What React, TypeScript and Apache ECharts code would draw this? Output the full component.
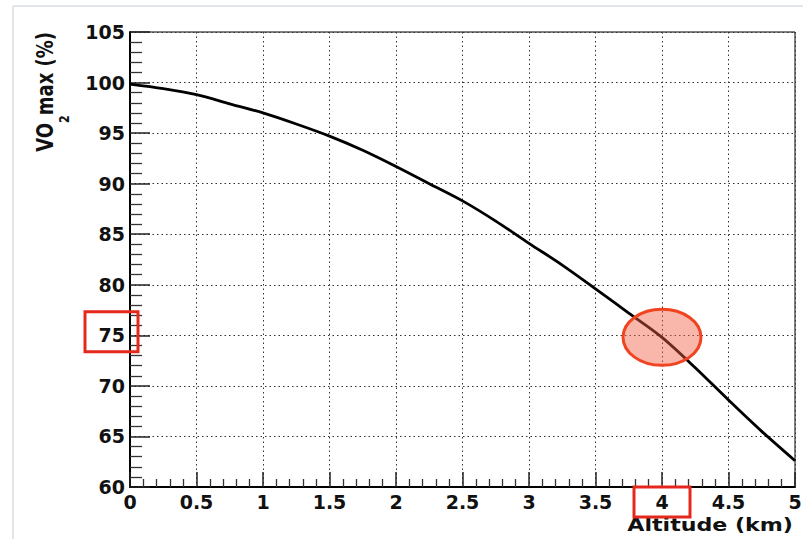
import React, { useEffect, useRef } from "react";
import * as echarts from "echarts";

const altitudeKm = [0, 0.25, 0.5, 0.75, 1, 1.25, 1.5, 1.75, 2, 2.25, 2.5, 2.75, 3, 3.25, 3.5, 3.75, 4, 4.25, 4.5, 4.75, 5];
const vo2maxPct = [99.85, 99.4, 98.8, 97.9, 97.0, 95.9, 94.7, 93.3, 91.7, 90.0, 88.3, 86.3, 84.1, 81.95, 79.6, 77.2, 74.8, 71.8, 68.6, 65.5, 62.6];
const highlightPoint = [4, 74.8];
const highlightYTick = 75;
const highlightXTick = 4;

const FONT = "DejaVu Sans";

export default function App() {
  const ref = useRef<HTMLDivElement>(null);
  useEffect(() => {
    document.body.style.margin = "0";
    const chart = echarts.init(ref.current!, null, { renderer: "svg" });
    chart.setOption({
      animation: false,
      backgroundColor: "#fff",
      grid: {
        left: 130,
        top: 32,
        right: 8,
        bottom: 52,
        show: true,
        borderColor: "#000",
        borderWidth: 1,
        outerBoundsMode: "none",
      },
      xAxis: {
        type: "value",
        min: 0,
        max: 5,
        interval: 0.5,
        axisLine: { show: true, onZero: false, lineStyle: { color: "#000", width: 2 } },
        axisTick: { show: true, inside: true, length: 15, lineStyle: { color: "#222", width: 1.5 } },
        minorTick: { show: true, splitNumber: 5, length: 8, lineStyle: { color: "#333", width: 1.3 } },
        splitLine: { show: true, lineStyle: { color: "#333", type: [1.5, 3], width: 1 } },
        axisLabel: { color: "#111", fontFamily: FONT, fontWeight: "bold", fontSize: 19, margin: 5, showMinLabel: true, showMaxLabel: true },
      },
      yAxis: {
        type: "value",
        min: 60,
        max: 105,
        interval: 5,
        axisLine: { show: true, onZero: false, lineStyle: { color: "#000", width: 2 } },
        axisTick: { show: true, inside: true, length: 20, lineStyle: { color: "#222", width: 1.5 } },
        minorTick: { show: true, splitNumber: 5, length: 12, lineStyle: { color: "#333", width: 1.3 } },
        splitLine: { show: true, lineStyle: { color: "#333", type: [1.5, 3], width: 1 } },
        axisLabel: { color: "#111", fontFamily: FONT, fontWeight: "bold", fontSize: 19, margin: 5, showMinLabel: true, showMaxLabel: true },
      },
      series: [
        {
          type: "line",
          data: altitudeKm.map((a, i) => [a, vo2maxPct[i]]),
          showSymbol: false,
          smooth: 0.3,
          lineStyle: { color: "#000", width: 2.8 },
          z: 3,
        },
      ],
    });

    const pt = chart.convertToPixel({ gridIndex: 0 }, highlightPoint) as number[];
    const y75 = chart.convertToPixel({ yAxisIndex: 0 }, highlightYTick) as number;
    const x4 = chart.convertToPixel({ xAxisIndex: 0 }, highlightXTick) as number;
    const axisX = chart.convertToPixel({ xAxisIndex: 0 }, 0) as number;
    const axisY = chart.convertToPixel({ yAxisIndex: 0 }, 60) as number;

    chart.setOption({
      graphic: [
        { type: "line", shape: { x1: 13, y1: 6, x2: 803, y2: 6 }, style: { stroke: "#e2e5ea", lineWidth: 2 }, silent: true },
        { type: "line", shape: { x1: 13, y1: 6, x2: 13, y2: 539 }, style: { stroke: "#e2e5ea", lineWidth: 2 }, silent: true },
        {
          type: "text",
          x: 49,
          y: 32,
          rotation: Math.PI / 2,
          scaleY: 1.3,
          style: {
            text: "{a|VO}{sub|2}{a|max (%)}",
            align: "right",
            verticalAlign: "middle",
            rich: {
              a: { fontFamily: FONT, fontWeight: "bold", fontSize: 18, lineHeight: 24, fill: "#111", verticalAlign: "top" },
              sub: { fontFamily: FONT, fontWeight: "bold", fontSize: 11, lineHeight: 11, fill: "#111", verticalAlign: "top", padding: [18, 0, 0, 0] },
            },
          },
        },
        {
          type: "text",
          x: 793,
          y: 525,
          scaleX: 1.23,
          style: {
            text: "Altitude (km)",
            align: "right",
            verticalAlign: "middle",
            fontFamily: FONT,
            fontWeight: "bold",
            fontSize: 18,
            fill: "#111",
          },
        },
        {
          type: "ellipse",
          shape: { cx: pt[0], cy: pt[1], rx: 39, ry: 28 },
          style: { fill: "rgba(242,95,70,0.45)", stroke: "#f0431f", lineWidth: 3 },
          z: 10,
        },
        {
          type: "rect",
          shape: { x: axisX - 45, y: y75 - 23.5, width: 53, height: 40 },
          style: { fill: "none", stroke: "#e5281c", lineWidth: 3 },
          z: 10,
        },
        {
          type: "rect",
          shape: { x: x4 - 28, y: axisY, width: 56, height: 30 },
          style: { fill: "none", stroke: "#e5281c", lineWidth: 3 },
          z: 10,
        },
      ],
    });
    return () => chart.dispose();
  }, []);
  return <div ref={ref} style={{ width: 803, height: 539 }} />;
}
